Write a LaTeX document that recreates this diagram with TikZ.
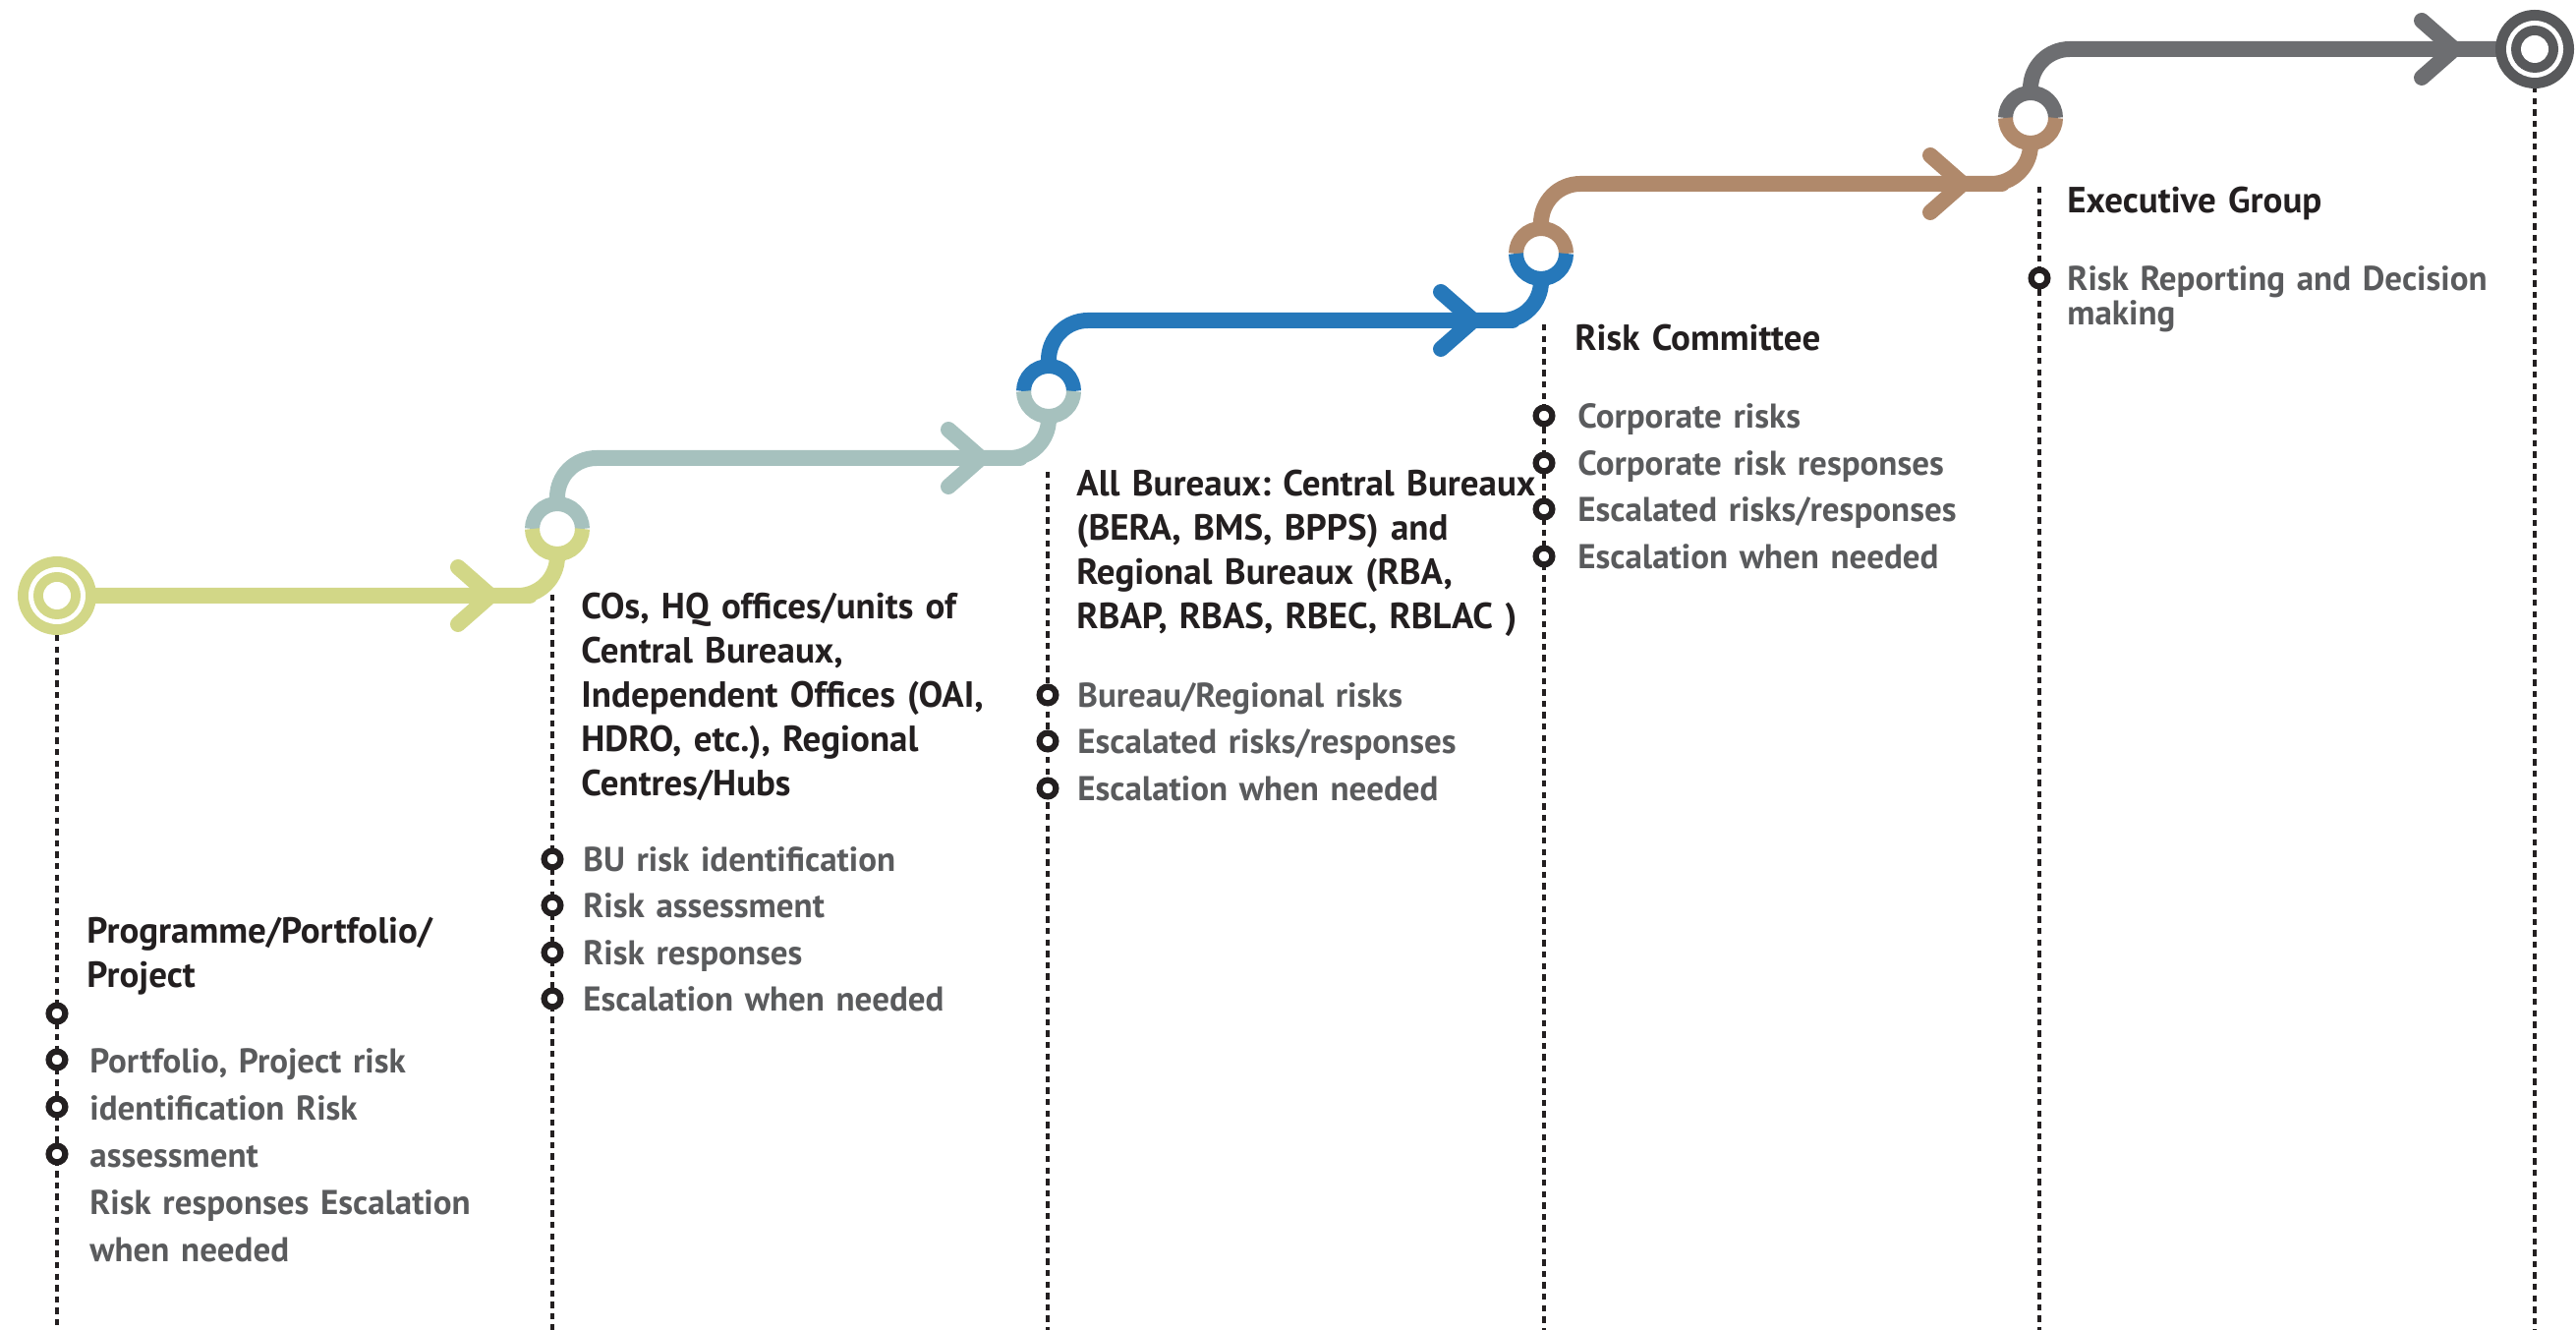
\documentclass[tikz,border=0pt]{standalone}
\usepackage{fontspec}
\setmainfont{PT Sans}
\usetikzlibrary{calc}
\frenchspacing
\definecolor{verde}{HTML}{D2D787}
\definecolor{salvia}{HTML}{A6C1BE}
\definecolor{blu}{HTML}{2678BA}
\definecolor{marrone}{HTML}{B0896B}
\definecolor{grigio}{HTML}{6D6E71}
\definecolor{grigioscuro}{HTML}{58595B}
\definecolor{nero}{HTML}{231F20}
\definecolor{grigiotesto}{HTML}{5A5B5D}
\tikzset{
  linea/.style = {line width=8pt, line cap=round, line join=round},
  anello/.style = {line width=7.5pt},
  guida/.style = {nero, line width=1.6pt, dash pattern=on 3.2pt off 2.6pt},
  punto/.style = {draw=nero, fill=white, line width=3.1pt},
  titolo/.style = {anchor=base west, inner sep=0pt, text width=260pt, align=left, text=nero,
    font=\bfseries\fontsize{18.5}{22.5}\selectfont},
  voce/.style = {anchor=base west, inner sep=0pt, text width=260pt, align=left, text=grigiotesto,
    yshift=-1.5pt, font=\bfseries\fontsize{17.5}{24}\selectfont}
}
\newcommand{\punta}[2]{
\draw[linea, #2] ($(#1)+(-33,-29)$) -- (#1) -- ($(#1)+(-33,29)$);
}
\newcommand{\stazione}[3]{
\fill[white] (#1) circle (25);
\draw[anello, #2] ($(#1)+(25.5,0)$) arc[start angle=0, end angle=180, radius=25.5];
\draw[anello, #3] ($(#1)+(-25.5,0)$) arc[start angle=180, end angle=360, radius=25.5];
}
\newcommand{\capolinea}[2]{
\fill[#2] (#1) circle (40);
\fill[white] (#1) circle (29);
\fill[#2] (#1) circle (24);
\fill[white] (#1) circle (14);
}

\begin{document}
\begin{tikzpicture}[x=0.5pt, y=0.5pt]
    \useasboundingbox (0,0) rectangle (2621,1353);
    % Fermate e punte
    \coordinate (s0) at (58,747);
    \coordinate (a0) at (499,747);
    \coordinate (n1) at (567,815);
    \coordinate (a1) at (998,887);
    \coordinate (n2) at (1067,955);
    \coordinate (a2) at (1499,1027);
    \coordinate (n3) at (1568,1095);
    \coordinate (a3) at (1997,1166);
    \coordinate (n4) at (2066,1233);
    \coordinate (a4) at (2497,1303);
    \coordinate (e0) at (2579,1303);
    % Guide tratteggiate
    \draw[guida] (58,707) -- (58,0);
    \draw[guida] (562,748) -- (562,0);
    \draw[guida] (1066,873) -- (1066,0);
    \draw[guida] (1571,1023) -- (1571,0);
    \draw[guida] (2075,1163) -- (2075,0);
    \draw[guida] (2579,1265) -- (2579,0);
    % Linee
    \draw[linea, verde, rounded corners=20pt] (s0) -- (a0) -| (n1);
    \draw[linea, salvia, rounded corners=20pt] (n1) |- (a1) -| (n2);
    \draw[linea, blu, rounded corners=20pt] (n2) |- (a2) -| (n3);
    \draw[linea, marrone, rounded corners=20pt] (n3) |- (a3) -| (n4);
    \draw[linea, grigio, rounded corners=20pt] (n4) |- (a4) -- (e0);
    \punta{a0}{verde}
    \punta{a1}{salvia}
    \punta{a2}{blu}
    \punta{a3}{marrone}
    \punta{a4}{grigio}
    % Stazioni
    \capolinea{s0}{verde}
    \stazione{n1}{salvia}{verde}
    \stazione{n2}{blu}{salvia}
    \stazione{n3}{marrone}{blu}
    \stazione{n4}{grigio}{marrone}
    \capolinea{e0}{grigioscuro}
    % Titoli
    \node[titolo] (t0) at (88,393) {Programme/Portfolio/\\Project};
    \node[titolo] (t1) at (591,723) {COs, HQ offices/units of\\Central Bureaux,\\Independent Offices (OAI,\\HDRO, etc.), Regional\\Centres/Hubs};
    \node[titolo] (t2) at (1095,848) {All Bureaux: Central Bureaux\\(BERA, BMS, BPPS) and\\Regional Bureaux (RBA,\\RBAP, RBAS, RBEC, RBLAC )};
    \node[titolo] (t3) at (1602,996) {Risk Committee};
    \node[titolo] (t4) at (2103,1136) {Executive Group};
    % Voci
    \draw[punto] (58,322) circle (8.4);
    \draw[punto] (58,275) circle (8.4);
    \draw[punto] (58,227) circle (8.4);
    \draw[punto] (58,179) circle (8.4);
    \node[voce] (v0) at (91,264) {Portfolio, Project risk\\identification Risk\\assessment\\Risk responses Escalation\\when needed};
    \draw[punto] (562,479) circle (8.4);
    \draw[punto] (562,432) circle (8.4);
    \draw[punto] (562,384) circle (8.4);
    \draw[punto] (562,337) circle (8.4);
    \node[voce] (v11) at (593,469) {BU risk identification};
    \node[voce] (v12) at (593,422) {Risk assessment};
    \node[voce] (v13) at (593,374) {Risk responses};
    \node[voce] (v14) at (593,327) {Escalation when needed};
    \draw[punto] (1066,646) circle (8.4);
    \draw[punto] (1066,599) circle (8.4);
    \draw[punto] (1066,551) circle (8.4);
    \node[voce] (v21) at (1096,636) {Bureau/Regional risks};
    \node[voce] (v22) at (1096,589) {Escalated risks/responses};
    \node[voce] (v23) at (1096,541) {Escalation when needed};
    \draw[punto] (1571,930) circle (8.4);
    \draw[punto] (1571,882) circle (8.4);
    \draw[punto] (1571,835) circle (8.4);
    \draw[punto] (1571,787) circle (8.4);
    \node[voce] (v31) at (1605,920) {Corporate risks};
    \node[voce] (v32) at (1605,872) {Corporate risk responses};
    \node[voce] (v33) at (1605,825) {Escalated risks/responses};
    \node[voce] (v34) at (1605,777) {Escalation when needed};
    \draw[punto] (2075,1070) circle (8.4);
    \node[voce, font=\bfseries\fontsize{17.5}{15.5}\selectfont] (v41) at (2103,1060) {Risk Reporting and Decision\\making};
\end{tikzpicture}
\end{document}
